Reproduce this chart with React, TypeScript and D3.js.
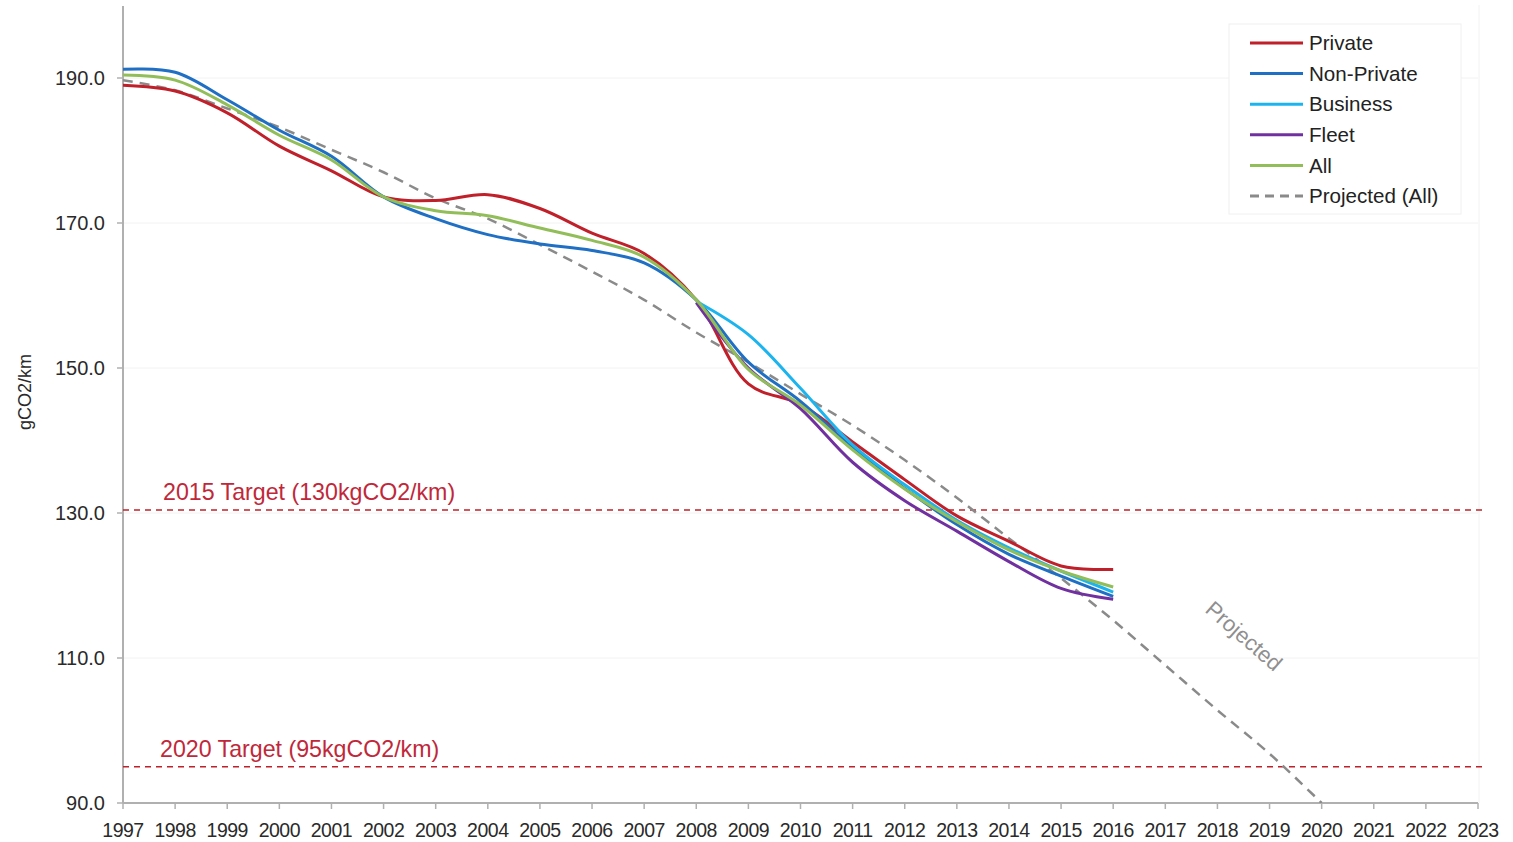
import React from "react";
import * as d3 from "d3";

const years = d3.range(1997, 2017);
const privateVals = [189.0, 188.2, 185.2, 180.6, 177.2, 173.6, 173.1, 173.9, 172.0, 168.6, 165.8, 159.4, 147.8, 145.0, 139.8, 134.6, 129.6, 126.1, 122.7, 122.2];
const nonPrivateVals = [191.2, 190.8, 187.0, 182.8, 179.2, 173.6, 170.6, 168.4, 167.1, 166.2, 164.5, 159.4, 150.8, 145.4, 139.0, 133.4, 128.4, 124.3, 121.3, 118.5];
const allVals = [190.4, 189.7, 186.3, 182.1, 178.7, 173.6, 171.7, 171.0, 169.3, 167.6, 165.3, 159.4, 149.8, 144.9, 138.7, 133.3, 128.8, 124.9, 122.0, 119.8];
const lateYears = d3.range(2008, 2017);
const businessVals = [159.2, 154.6, 147.2, 139.4, 133.9, 129.0, 125.2, 122.0, 119.1];
const fleetVals = [159.0, 150.0, 144.4, 137.0, 131.7, 127.5, 123.3, 119.6, 118.1];
const projYears = d3.range(1997, 2021);
const projVals = [189.7, 188.3, 185.8, 183.2, 180.1, 177.0, 173.4, 170.6, 167.0, 163.3, 159.4, 154.9, 150.8, 146.4, 142.1, 137.3, 132.1, 126.5, 121.0, 115.2, 109.0, 102.8, 96.8, 90.0];
const xTicks = d3.range(1997, 2024);
const yTicks = [90, 110, 130, 150, 170, 190];
const targets = [
  { value: 130.4, label: "2015 Target (130kgCO2/km)", lx: 163 },
  { value: 95, label: "2020 Target (95kgCO2/km)", lx: 160 },
];

const series = [
  { name: "Private", color: "#C0202A", xs: years, ys: privateVals },
  { name: "Non-Private", color: "#1F6FC4", xs: years, ys: nonPrivateVals },
  { name: "Business", color: "#1CB4EE", xs: lateYears, ys: businessVals },
  { name: "Fleet", color: "#7030A0", xs: lateYears, ys: fleetVals },
  { name: "All", color: "#92BE5A", xs: years, ys: allVals },
];

export default function App() {
  const W = 1513, H = 842;
  const x = d3.scaleLinear().domain([1997, 2023]).range([123, 1478]);
  const y = d3.scaleLinear().domain([90, 200]).range([803, 5.5]);
  const line = d3
    .line<[number, number]>()
    .x((d) => x(d[0]))
    .y((d) => y(d[1]))
    .curve(d3.curveCatmullRom.alpha(0.5));
  const font = "Liberation Sans, Arial, sans-serif";
  const legendItems = [
    ...series.map((s) => ({ name: s.name, color: s.color, dash: "" })),
    { name: "Projected (All)", color: "#8A8A8A", dash: "9,6" },
  ];
  return (
    <svg width={W} height={H} style={{ position: "absolute", left: 0, top: 0, background: "#fff" }} fontFamily={font}>
      <defs>
        <clipPath id="plot">
          <rect x={123} y={0} width={1360} height={803} />
        </clipPath>
      </defs>
      {yTicks.slice(1).map((t) => (
        <line key={"g" + t} x1={123} x2={1478} y1={y(t)} y2={y(t)} stroke="#f2f2f2" strokeWidth={1} />
      ))}
      <line x1={1479} x2={1479} y1={5} y2={803} stroke="#f2f2f2" />
      <line x1={123} x2={123} y1={6} y2={803} stroke="#b0b0b0" strokeWidth={2} />
      {yTicks.map((t) => (
        <g key={"y" + t}>
          <line x1={117} x2={123} y1={y(t)} y2={y(t)} stroke="#b0b0b0" strokeWidth={1.5} />
          <text x={105} y={y(t)} dy="0.35em" textAnchor="end" fontSize={20} fill="#2a2a2a">
            {d3.format(".1f")(t)}
          </text>
        </g>
      ))}
      <text transform={`translate(31,${392}) rotate(-90)`} textAnchor="middle" fontSize={18} fill="#2a2a2a">
        gCO2/km
      </text>
      <line x1={123} x2={1478} y1={803} y2={803} stroke="#b0b0b0" strokeWidth={2} />
      {xTicks.map((t) => (
        <g key={"x" + t}>
          <line x1={x(t)} x2={x(t)} y1={803} y2={809} stroke="#b0b0b0" strokeWidth={1.5} />
          <text x={x(t)} y={830} dy="0.35em" textAnchor="middle" fontSize={19.5} fill="#2a2a2a" letterSpacing={-0.5}>
            {t}
          </text>
        </g>
      ))}
      {targets.map((t) => (
        <g key={t.label}>
          <line x1={123} x2={1483} y1={y(t.value)} y2={y(t.value)} stroke="#C0202A" strokeWidth={1.5} strokeDasharray="6,5" />
          <text x={t.lx} y={y(t.value) - 18} dy="0.35em" fontSize={23.2} fill="#C0283A">
            {t.label}
          </text>
        </g>
      ))}
      <g clipPath="url(#plot)">
        <path
          d={line(projYears.map((yr, i) => [yr, projVals[i]] as [number, number])) || ""}
          fill="none"
          stroke="#8A8A8A"
          strokeWidth={2.5}
          strokeDasharray="10,7"
        />
        {series.map((s) => (
          <path
            key={s.name}
            d={line(s.xs.map((yr, i) => [yr, s.ys[i]] as [number, number])) || ""}
            fill="none"
            stroke={s.color}
            strokeWidth={3}
          />
        ))}
      </g>
      <text transform={`translate(1244,636) rotate(41)`} textAnchor="middle" dy="0.35em" fontSize={22} fill="#8f8f8f">
        Projected
      </text>
      <rect x={1229} y={24} width={232} height={190} fill="#fff" stroke="#f0f0f0" />
      {legendItems.map((it, i) => {
        const ly = 43 + i * 30.6;
        return (
          <g key={it.name}>
            <line x1={1250} x2={1303} y1={ly} y2={ly} stroke={it.color} strokeWidth={3} strokeDasharray={it.dash || undefined} />
            <text x={1309} y={ly} dy="0.35em" fontSize={20.6} fill="#222">
              {it.name}
            </text>
          </g>
        );
      })}
    </svg>
  );
}
